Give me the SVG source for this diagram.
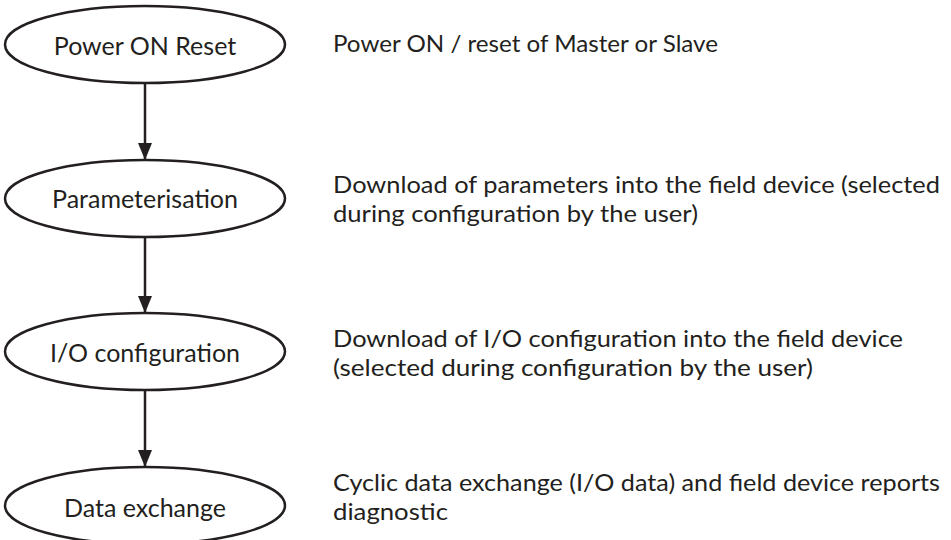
<svg xmlns="http://www.w3.org/2000/svg" width="951" height="540" viewBox="0 0 951 540">
<defs>
<style>
.node ellipse{fill:#fff;stroke:#231f20;stroke-width:2.5}
.node text{font-family:Lato,"Open Sans",sans-serif;font-size:25px;fill:#231f20;text-anchor:middle}
.desc text{font-family:Lato,"Open Sans",sans-serif;font-size:24px;fill:#231f20}
.conn line{stroke:#231f20;stroke-width:2.5}
</style>
<marker id="arr" viewBox="0 0 17 14" refX="17" refY="7" markerWidth="17" markerHeight="14" markerUnits="userSpaceOnUse" orient="auto">
<path d="M0,0 L17,7 L0,14 Z" fill="#231f20"/>
</marker>
</defs>
<rect width="951" height="540" fill="#fff"/>
<g id="connectors" class="conn">
<line x1="145" y1="83" x2="145" y2="160" marker-end="url(#arr)"/>
<line x1="145" y1="237" x2="145" y2="313" marker-end="url(#arr)"/>
<line x1="145" y1="390" x2="145" y2="467" marker-end="url(#arr)"/>
</g>
<g id="node-power" class="node">
<ellipse cx="145" cy="44.5" rx="140" ry="38.5"/>
<text x="145" y="55">Power ON Reset</text>
</g>
<g id="node-param" class="node">
<ellipse cx="145" cy="198.5" rx="140" ry="38.5"/>
<text x="145" y="208">Parameterisation</text>
</g>
<g id="node-io" class="node">
<ellipse cx="145" cy="351.5" rx="140" ry="38.5"/>
<text x="145" y="362">I/O configuration</text>
</g>
<g id="node-data" class="node">
<ellipse cx="145" cy="505.5" rx="140" ry="38.5"/>
<text x="145" y="517">Data exchange</text>
</g>
<g id="descriptions" class="desc">
<text x="333" y="52" textLength="385" lengthAdjust="spacingAndGlyphs">Power ON / reset of Master or Slave</text>
<text x="333" y="192.5" textLength="607" lengthAdjust="spacingAndGlyphs">Download of parameters into the field device (selected</text>
<text x="333" y="221.5" textLength="365" lengthAdjust="spacingAndGlyphs">during configuration by the user)</text>
<text x="333" y="347" textLength="570" lengthAdjust="spacingAndGlyphs">Download of I/O configuration into the field device</text>
<text x="333" y="376" textLength="480" lengthAdjust="spacingAndGlyphs">(selected during configuration by the user)</text>
<text x="333" y="491" textLength="607" lengthAdjust="spacingAndGlyphs">Cyclic data exchange (I/O data) and field device reports</text>
<text x="333" y="520" textLength="115" lengthAdjust="spacingAndGlyphs">diagnostic</text>
</g>
</svg>
